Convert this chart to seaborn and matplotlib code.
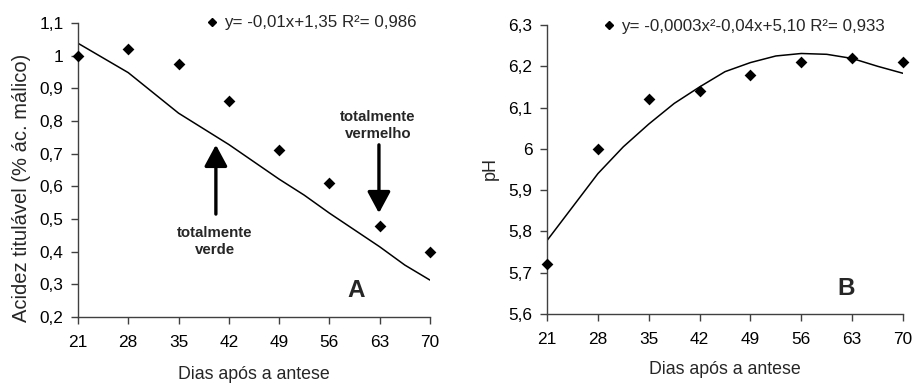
import matplotlib
matplotlib.use("Agg")
import matplotlib.pyplot as plt
import seaborn as sns
from matplotlib.lines import Line2D

# ---------------- data ----------------
days = [21, 28, 35, 42, 49, 56, 63, 70]
acidez = [1.00, 1.02, 0.975, 0.86, 0.71, 0.61, 0.48, 0.40]
ph = [5.72, 6.00, 6.12, 6.14, 6.18, 6.21, 6.22, 6.21]

fit_days_a = [21, 28, 35, 42, 49, 52.5, 56, 63, 66.5, 70]
fit_acidez = [1.038, 0.948, 0.824, 0.728, 0.622, 0.573, 0.518, 0.415, 0.359, 0.313]

fit_days_b = [21, 24.5, 28, 31.5, 35, 38.5, 42, 45.5, 49, 52.5, 56, 59.5, 63, 66.5, 70]
fit_ph = [5.778, 5.859, 5.94, 6.005, 6.06, 6.11, 6.15, 6.187, 6.209, 6.225,
          6.231, 6.229, 6.219, 6.200, 6.183]

x_ticks = [21, 28, 35, 42, 49, 56, 63, 70]
y_ticks_a = [0.2, 0.3, 0.4, 0.5, 0.6, 0.7, 0.8, 0.9, 1.0, 1.1]
y_labels_a = ["0,2", "0,3", "0,4", "0,5", "0,6", "0,7", "0,8", "0,9", "1", "1,1"]
y_ticks_b = [5.6, 5.7, 5.8, 5.9, 6.0, 6.1, 6.2, 6.3]
y_labels_b = ["5,6", "5,7", "5,8", "5,9", "6", "6,1", "6,2", "6,3"]

eq_a = "y= -0,01x+1,35 R²= 0,986"
eq_b = "y= -0,0003x²-0,04x+5,10 R²= 0,933"
xlabel = "Dias após a antese"
ylabel_a = "Acidez titulável (% ác. málico)"
ylabel_b = "pH"

# ---------------- style ----------------
sns.set_style("ticks")
plt.rcParams["font.family"] = ["Liberation Sans", "DejaVu Sans"]
spine_col = "#404040"

fig = plt.figure(figsize=(9.14, 3.87), dpi=100)
axA = fig.add_axes([0.0853, 0.1809, 0.3851, 0.7597])
axB = fig.add_axes([0.5985, 0.1886, 0.3895, 0.7468])


def style_axis(ax, yticks, ylabels, ylim):
    ax.set_xlim(21, 70)
    ax.set_ylim(*ylim)
    ax.set_xticks(x_ticks)
    ax.set_xticklabels([str(t) for t in x_ticks])
    ax.set_yticks(yticks)
    ax.set_yticklabels(ylabels)
    for s in ["top", "right"]:
        ax.spines[s].set_visible(False)
    for s in ["left", "bottom"]:
        ax.spines[s].set_color(spine_col)
        ax.spines[s].set_linewidth(1.0)
    ax.tick_params(axis="both", direction="out", length=5, width=1,
                   color=spine_col, labelsize=12.4, labelcolor="black")
    ax.tick_params(axis="x", pad=8)
    ax.tick_params(axis="y", pad=5.5)


# ---------------- panel A ----------------
sns.lineplot(x=fit_days_a, y=fit_acidez, ax=axA, color="black", lw=1.1)
sns.scatterplot(x=days, y=acidez, ax=axA, marker="D", s=36, color="black",
                edgecolor="black", linewidth=0, clip_on=False, zorder=5)
style_axis(axA, y_ticks_a, y_labels_a, (0.2, 1.1))

axA.set_xlabel(xlabel, fontsize=12.8)
axA.xaxis.set_label_coords(0.5, -0.1667)
axA.set_ylabel(ylabel_a, fontsize=14.5, va="center", ha="center")
axA.yaxis.set_label_coords(-0.159, 0.438)

h = Line2D([], [], marker="D", color="black", ls="none", markersize=4.2)
axA.legend([h], [eq_a], loc="center left", bbox_to_anchor=(0.361, 1.0),
           frameon=False, fontsize=12.2, handlelength=0.8, handletextpad=0.3,
           borderpad=0, borderaxespad=0)

arrow_kw = dict(arrowstyle="-|>,head_width=0.7,head_length=1.3", mutation_scale=10,
                lw=2.4, color="black", shrinkA=0, shrinkB=0)
axA.annotate("", xy=(40.2, 0.727), xytext=(40.2, 0.515), arrowprops=arrow_kw)
axA.annotate("", xy=(62.9, 0.518), xytext=(62.9, 0.727), arrowprops=arrow_kw)
axA.text(40.07, 0.479, "totalmente\nverde", ha="center", va="top",
         fontsize=10.8, fontweight="bold", linespacing=1.3)
axA.text(62.76, 0.834, "totalmente\nvermelho", ha="center", va="top",
         fontsize=10.8, fontweight="bold", linespacing=1.3)
axA.text(59.7, 0.262, "A", ha="center", va="baseline", fontsize=17.5, fontweight="bold")

# ---------------- panel B ----------------
sns.lineplot(x=fit_days_b, y=fit_ph, ax=axB, color="black", lw=1.1)
sns.scatterplot(x=days, y=ph, ax=axB, marker="D", s=36, color="black",
                edgecolor="black", linewidth=0, clip_on=False, zorder=5)
style_axis(axB, y_ticks_b, y_labels_b, (5.6, 6.3))

axB.set_xlabel(xlabel, fontsize=12.8)
axB.xaxis.set_label_coords(0.5, -0.1626)
axB.set_ylabel(ylabel_b, fontsize=13, va="center", ha="center")
axB.yaxis.set_label_coords(-0.160, 0.502)

h2 = Line2D([], [], marker="D", color="black", ls="none", markersize=4.2)
axB.legend([h2], [eq_b], loc="center left", bbox_to_anchor=(0.155, 0.9965),
           frameon=False, fontsize=12.2, handlelength=0.8, handletextpad=0.3,
           borderpad=0, borderaxespad=0)
axB.text(62.2, 5.645, "B", ha="center", va="baseline", fontsize=17.5, fontweight="bold")

fig.savefig("out.png", dpi=100)
